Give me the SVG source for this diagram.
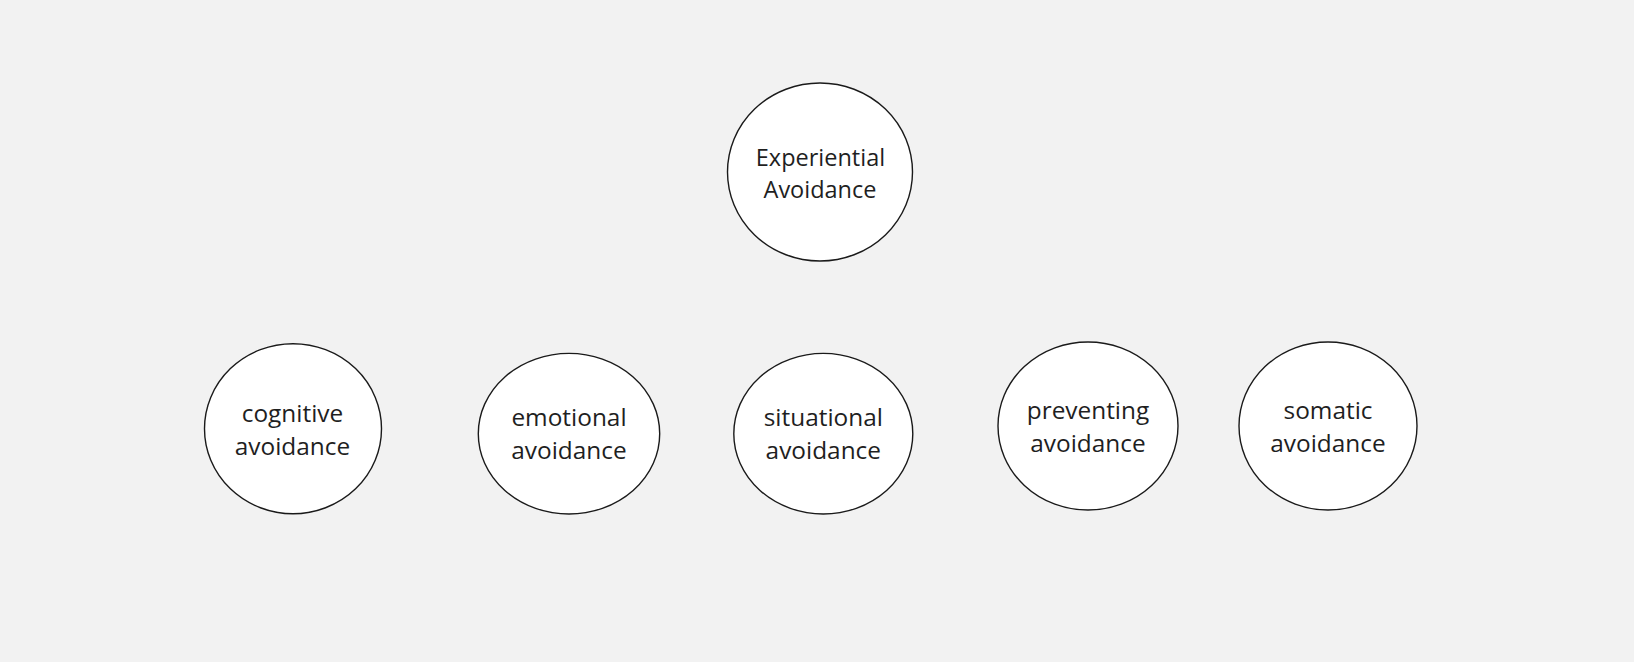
<svg xmlns="http://www.w3.org/2000/svg" width="1634" height="662" viewBox="0 0 1634 662">
<style>
.n ellipse{fill:#ffffff;stroke:#1a1a1a;stroke-width:1.4}
.n text{font-family:"Open Sans","Noto Sans",sans-serif;font-size:24.4px;fill:#1f1f1f;text-anchor:middle}
#experiential text{font-size:23.5px}
</style>
<rect width="1634" height="662" fill="#f2f2f2"/>
<g id="connectors"></g>
<g id="experiential" class="n"><ellipse cx="820" cy="172" rx="92.5" ry="89"/><text x="820.5" y="166">Experiential</text><text x="820" y="197.5">Avoidance</text></g>
<g id="cognitive" class="n"><ellipse cx="293" cy="428.7" rx="88.5" ry="85"/><text x="292.5" y="422">cognitive</text><text x="292.5" y="455">avoidance</text></g>
<g id="emotional" class="n"><ellipse cx="569" cy="433.7" rx="90.7" ry="80.3"/><text x="569" y="426">emotional</text><text x="569" y="459">avoidance</text></g>
<g id="situational" class="n"><ellipse cx="823.3" cy="433.7" rx="89.5" ry="80.3"/><text x="823.3" y="426">situational</text><text x="823.3" y="459">avoidance</text></g>
<g id="preventing" class="n"><ellipse cx="1088" cy="426" rx="90" ry="84"/><text x="1088" y="419">preventing</text><text x="1088" y="452">avoidance</text></g>
<g id="somatic" class="n"><ellipse cx="1328" cy="426" rx="89" ry="84"/><text x="1328" y="419">somatic</text><text x="1328" y="452">avoidance</text></g>
</svg>
